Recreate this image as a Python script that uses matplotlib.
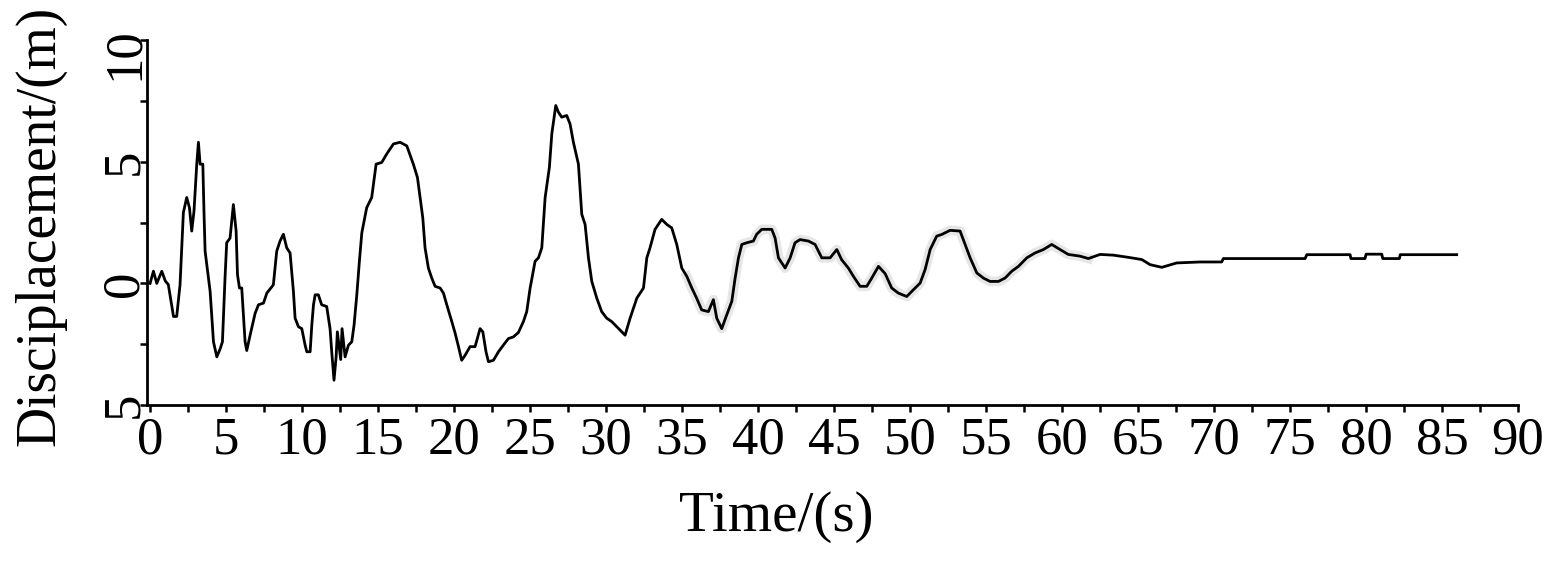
import matplotlib
matplotlib.use("Agg")
import matplotlib.pyplot as plt
from matplotlib.ticker import MultipleLocator
from matplotlib.transforms import ScaledTranslation

plt.rcParams['font.family'] = ['Liberation Serif', 'DejaVu Serif']

# displacement record
time_s = [0.0, 0.22, 0.44, 0.77, 1.0, 1.2, 1.54, 1.75, 1.97, 2.19, 2.41, 2.59, 2.74, 2.89, 3.07,
          3.18, 3.29, 3.47, 3.55, 3.62, 3.84, 3.95, 4.17, 4.39, 4.61, 4.76, 4.93, 5.04, 5.26, 5.48,
          5.66, 5.75, 5.88, 6.03, 6.25, 6.36, 6.58, 6.91, 7.13, 7.46, 7.68, 8.11, 8.33, 8.55, 8.77,
          8.99, 9.21, 9.43, 9.54, 9.76, 9.98, 10.2, 10.31, 10.53, 10.64, 10.75, 10.86, 11.07, 11.29,
          11.62, 11.84, 11.95, 12.1, 12.24, 12.32, 12.54, 12.63, 12.83, 13.05, 13.27, 13.42, 13.6,
          13.77, 13.93, 14.25, 14.58, 14.87, 15.24, 15.57, 16.01, 16.45, 16.89, 17.32, 17.59, 17.94,
          18.09, 18.31, 18.53, 18.75, 19.08, 19.3, 19.52, 19.85, 20.07, 20.29, 20.5, 20.72, 21.05,
          21.38, 21.71, 21.89, 22.1, 22.26, 22.59, 22.92, 23.24, 23.57, 23.9, 24.23, 24.56, 24.78,
          25.0, 25.33, 25.55, 25.77, 25.99, 26.27, 26.43, 26.69, 26.86, 27.08, 27.41, 27.63, 27.85,
          28.18, 28.4, 28.62, 28.84, 29.06, 29.39, 29.71, 30.04, 30.37, 30.7, 31.25, 31.58, 32.02,
          32.46, 32.68, 32.89, 33.22, 33.66, 34.0, 34.32, 34.65, 34.98, 35.31, 35.64, 35.96, 36.29,
          36.73, 37.06, 37.28, 37.61, 37.94, 38.27, 38.49, 38.71, 38.93, 39.26, 39.69, 39.91, 40.24,
          40.9, 41.12, 41.34, 41.78, 42.11, 42.43, 42.76, 43.31, 43.75, 44.19, 44.74, 45.18, 45.5,
          45.94, 46.27, 46.71, 47.15, 47.48, 47.92, 48.36, 48.79, 49.23, 49.78, 50.22, 50.66, 50.99,
          51.32, 51.75, 52.08, 52.63, 53.29, 53.62, 53.95, 54.39, 54.82, 55.26, 55.81, 56.25, 56.69,
          57.13, 57.68, 58.22, 58.77, 59.32, 59.87, 60.41, 61.18, 61.73, 62.5, 63.38, 64.36, 65.24,
          65.79, 66.56, 67.54, 69.08, 70.5, 70.61, 75.99, 76.1, 78.95, 79.0, 79.93, 80.0, 81.03,
          81.1, 82.19, 82.25, 85.96]
disp_m = [0.0, 0.5, 0.0, 0.5, 0.1, -0.05, -1.36, -1.36, -0.06, 2.91, 3.53, 3.11, 2.15, 2.98, 4.9,
          5.8, 4.9, 4.9, 2.84, 1.32, 0.22, -0.33, -2.4, -3.02, -2.69, -2.4, 0.22, 1.67, 1.86, 3.24,
          2.15, 0.36, -0.19, -0.19, -2.4, -2.76, -2.13, -1.23, -0.88, -0.81, -0.4, -0.06, 1.32, 1.74,
          2.02, 1.46, 1.25, -0.33, -1.43, -1.78, -1.86, -2.54, -2.81, -2.81, -1.71, -0.88, -0.47,
          -0.47, -0.88, -0.95, -1.86, -2.81, -3.98, -3.02, -1.99, -3.13, -1.86, -3.02, -2.54, -2.4,
          -1.71, -0.47, 0.91, 2.08, 3.11, 3.53, 4.9, 4.97, 5.32, 5.73, 5.8, 5.65, 4.9, 4.35, 2.7,
          1.46, 0.63, 0.22, -0.12, -0.19, -0.4, -0.88, -1.57, -2.05, -2.6, -3.16, -2.96, -2.6,
          -2.6, -1.86, -1.99, -2.81, -3.22, -3.16, -2.81, -2.54, -2.27, -2.2, -2.02, -1.57, -1.16,
          -0.2, 0.91, 1.05, 1.46, 3.53, 4.77, 6.15, 7.31, 7.04, 6.83, 6.9, 6.55, 5.8,
          4.9, 2.84, 2.42, 1.05, 0.08, -0.61, -1.16, -1.43, -1.57, -1.78, -2.13, -1.43, -0.61,
          -0.19, 1.05, 1.46, 2.22, 2.63, 2.42, 2.28, 1.6, 0.63, 0.29, -0.19, -0.61, -1.09,
          -1.16, -0.67, -1.43, -1.86, -1.29, -0.74, 0.22, 1.05, 1.6, 1.67, 1.74, 2.02, 2.22,
          2.22, 1.86, 1.05, 0.63, 1.05, 1.67, 1.8, 1.74, 1.6, 1.05, 1.05, 1.39, 0.97,
          0.63, 0.29, -0.12, -0.12, 0.22, 0.7, 0.4, -0.19, -0.4, -0.54, -0.26, 0.01, 0.57,
          1.39, 1.94, 2.01, 2.18, 2.15, 1.6, 1.05, 0.43, 0.22, 0.08, 0.08, 0.22, 0.5,
          0.7, 1.05, 1.25, 1.39, 1.6, 1.39, 1.19, 1.12, 1.02, 1.19, 1.16, 1.07, 0.98,
          0.77, 0.66, 0.84, 0.88, 0.88, 1.02, 1.02, 1.18, 1.18, 1.02, 1.02, 1.2, 1.2,
          1.02, 1.02, 1.18, 1.18]

x_ticks = list(range(0, 91, 5))
y_ticks = [-5, 0, 5, 10]
y_tick_labels = ['5', '0', '5', '10']

fig = plt.figure(figsize=(15.66, 5.61), dpi=100)
ax = fig.add_axes([0.0939, 0.278, 0.8755, 0.6506])

# faint ghost trace seen behind the later part of the record
ghost = [(t, d) for t, d in zip(time_s, disp_m) if 35 <= t <= 62]
ax.plot([g[0] for g in ghost], [g[1] for g in ghost], color='#e6e6e6', lw=7, zorder=1)
ax.plot(time_s, disp_m, color='black', lw=2.0, zorder=2)

ax.set_xlim(-0.2, 90)
ax.set_ylim(-5, 10)
ax.set_xticks(x_ticks)
ax.xaxis.set_minor_locator(MultipleLocator(2.5))
ax.yaxis.set_minor_locator(MultipleLocator(2.5))
ax.set_yticks(y_ticks)
ax.set_yticklabels(y_tick_labels, rotation=90, va='center')

for s in ['top', 'right']:
    ax.spines[s].set_visible(False)
for s in ['left', 'bottom']:
    ax.spines[s].set_linewidth(2)

ax.tick_params(axis='both', which='both', direction='out', length=5, width=1.8, labelsize=38)
ax.tick_params(axis='x', pad=3)
ax.tick_params(axis='y', pad=-6)

# top y label sits a little below its tick in the original
top_lab = ax.get_yticklabels()[-1]
top_lab.set_transform(top_lab.get_transform() + ScaledTranslation(0, -0.14, fig.dpi_scale_trans))

ax.set_xlabel('Time/(s)', fontsize=41)
ax.xaxis.set_label_coords(0.459, -0.235)
ax.set_ylabel('Disciplacement/(m)', fontsize=40)
ax.yaxis.set_label_coords(-0.059, 0.49)

fig.savefig('out.png', dpi=100)
